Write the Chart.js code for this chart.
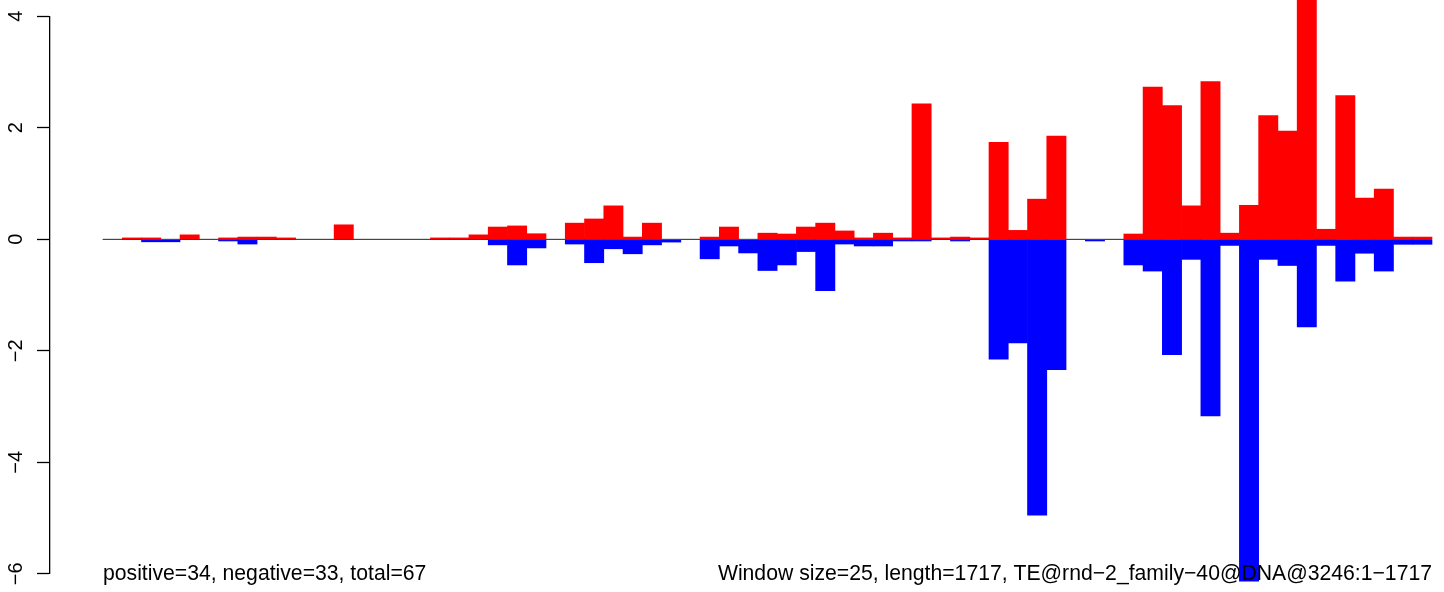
<!DOCTYPE html>
<html>
<head>
<meta charset="utf-8">
<script src="https://cdn.jsdelivr.net/npm/chart.js@4/dist/chart.umd.min.js"></script>
<style>html,body{margin:0;padding:0;background:#fff;overflow:hidden}</style>
</head>
<body>
<canvas id="c" width="1444" height="592"></canvas>
<script>
// window index (69 windows of size 25 over length 1717)
const windowIndex = Array.from({length: 69}, (_, i) => i);
const positiveValues = [
  0, 0.025, 0.025, 0, 0.08, 0, 0.025, 0.04, 0.04, 0.025,
  0, 0, 0.26, 0, 0, 0, 0, 0.025, 0.025, 0.08,
  0.22, 0.24, 0.10, 0, 0.29, 0.365, 0.60, 0.04, 0.29, 0,
  0, 0.04, 0.22, 0, 0.11, 0.095, 0.22, 0.29, 0.15, 0.025,
  0.11, 0.025, 2.43, 0.025, 0.04, 0.025, 1.74, 0.16, 0.72, 1.85,
  0, 0, 0, 0.095, 2.73, 2.40, 0.60, 2.83, 0.11, 0.61,
  2.22, 1.94, 4.4, 0.18, 2.58, 0.74, 0.90, 0.04, 0.04
];
const negativeValues = [
  0, 0, -0.045, -0.045, 0, 0, -0.03, -0.085, 0, 0,
  0, 0, 0, 0, 0, 0, 0, 0, 0, 0,
  -0.10, -0.46, -0.155, 0, -0.085, -0.42, -0.17, -0.26, -0.10, -0.05,
  0, -0.35, -0.12, -0.245, -0.56, -0.46, -0.22, -0.92, -0.085, -0.12,
  -0.12, -0.03, -0.03, 0, -0.03, 0, -2.15, -1.86, -4.95, -2.34,
  0, -0.03, 0, -0.46, -0.57, -2.07, -0.36, -3.17, -0.11, -6.13,
  -0.36, -0.47, -1.57, -0.11, -0.75, -0.25, -0.57, -0.09, -0.09
];
const yTickValues = [-6, -4, -2, 0, 2, 4];
const leftNote = "positive=34, negative=33, total=67";
const rightNote = "Window size=25, length=1717, TE@rnd\u22122_family\u221240@DNA@3246:1\u22121717";

const FONT = '"Liberation Sans", Arial, Helvetica, sans-serif';
const nWin = windowIndex.length;
const pxPerUnit = 1329 / nWin;

const notesPlugin = {
  id: 'notes',
  afterDatasetsDraw(chart) {
    const {ctx, scales: {x, y}} = chart;
    ctx.save();
    ctx.font = '21.2px ' + FONT;
    ctx.fillStyle = '#000';
    ctx.textBaseline = 'alphabetic';
    const base = y.getPixelForValue(yTickValues[0]) + 6.5;
    ctx.textAlign = 'left';
    ctx.fillText(leftNote, x.getPixelForValue(0), base);
    ctx.textAlign = 'right';
    ctx.fillText(rightNote, x.getPixelForValue(nWin), base);
    ctx.restore();
  }
};

new Chart(document.getElementById('c'), {
  data: {
    datasets: [
      {
        type: 'line',
        data: [{x: 0, y: 0}, {x: nWin, y: 0}],
        borderColor: '#707070',
        borderWidth: 1.3,
        pointRadius: 0,
        order: 2
      },
      {
        type: 'bar',
        data: windowIndex.map(i => ({x: i + 0.5, y: positiveValues[i]})),
        backgroundColor: '#ff0000',
        borderWidth: 0,
        barPercentage: 1,
        categoryPercentage: 1,
        grouped: false,
        clip: false,
        order: 1
      },
      {
        type: 'bar',
        data: windowIndex.map(i => ({x: i + 0.5, y: negativeValues[i]})),
        backgroundColor: '#0000ff',
        borderWidth: 0,
        barPercentage: 1,
        categoryPercentage: 1,
        grouped: false,
        clip: false,
        order: 1
      }
    ]
  },
  options: {
    responsive: false,
    animation: false,
    events: [],
    layout: {padding: {top: 16.3, bottom: 18.2, left: 0, right: 0}},
    plugins: {legend: {display: false}, tooltip: {enabled: false}},
    scales: {
      x: {
        type: 'linear',
        display: false,
        offset: false,
        min: -53 / pxPerUnit,
        max: nWin + 12 / pxPerUnit
      },
      y: {
        type: 'linear',
        min: -6,
        max: 4,
        afterFit(scale) {
          scale.width = 50;
          scale.paddingTop = 0;
          scale.paddingBottom = 0;
        },
        afterBuildTicks(scale) { scale.ticks = yTickValues.map(v => ({value: v})); },
        border: {display: true, color: '#000', width: 1.3},
        grid: {drawOnChartArea: false, drawTicks: true, tickLength: 13, tickColor: '#000', tickWidth: 1.3},
        ticks: {
          minRotation: 90,
          maxRotation: 90,
          crossAlign: 'center',
          padding: 9.5,
          color: '#000',
          font: {family: FONT, size: 20},
          callback: v => String(v).replace('-', '\u2212')
        }
      }
    }
  },
  plugins: [notesPlugin]
});
</script>
</body>
</html>
